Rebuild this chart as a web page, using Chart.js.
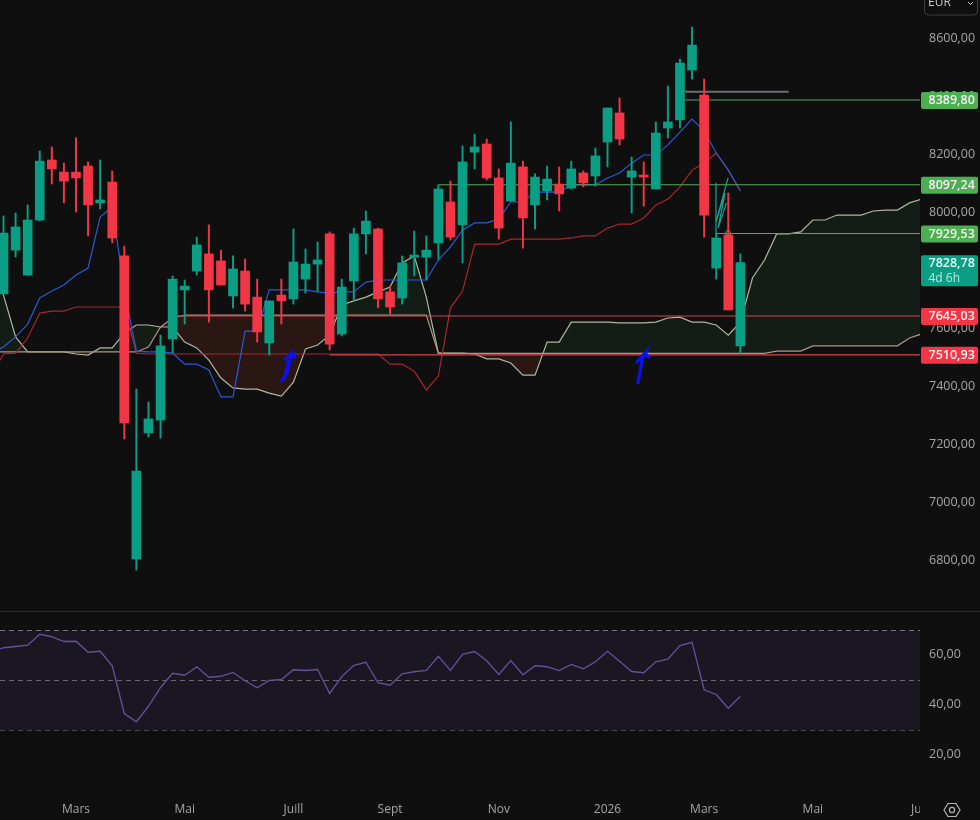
<!DOCTYPE html>
<html><head><meta charset="utf-8">
<style>
html,body{margin:0;padding:0;background:#0f0f0f;width:980px;height:820px;overflow:hidden}
canvas{position:absolute;left:0;display:block}
#sep{position:absolute;left:0;top:611px;width:980px;height:1px;background:#2a2a2c}
</style>
<script src="https://cdn.jsdelivr.net/npm/chart.js@4/dist/chart.umd.min.js"></script>
</head><body>
<canvas id="price" width="980" height="611" style="top:0"></canvas>
<div id="sep"></div>
<canvas id="osc" width="980" height="208" style="top:612px"></canvas>
<script>
const opens=[7721,7872,7786,7976,8183,8141,8141,8162,8035,8107,7852,6807,7242,7286,7566,7735,7800,7859,7835,7714,7800,7710,7552,7717,7704,7772,7824,7928,7583,7766,7928,7945,7728,7707,7848,7848,7897,8038,7959,8210,8238,8121,8041,8159,8028,8076,8100,8086,8138,8128,8245,8345,8124,8131,8083,8293,8321,8493,8407,7810,7924,7542];
const highs=[7990,8000,8028,8214,8228,8172,8259,8176,8183,8145,7886,7393,7348,7579,7783,7769,7917,7959,7872,7852,7841,7772,7697,7772,7945,7876,7900,7935,7772,7948,8007,7948,7748,7852,7938,7921,8097,8110,8231,8272,8255,8152,8314,8179,8135,8162,8159,8179,8145,8224,8362,8397,8193,8176,8314,8438,8531,8641,8462,7931,8069,7859];
const lows=[7721,7848,7786,7972,8100,8035,8004,7921,8014,7897,7221,6769,7228,7224,7517,7617,7786,7624,7752,7673,7662,7555,7510,7617,7686,7724,7731,7528,7576,7697,7859,7673,7652,7686,7783,7769,7841,7907,7828,8152,8114,7910,8041,7879,7945,8045,8007,8083,8090,8093,8159,8235,8000,8024,8083,8259,8293,8462,7917,7772,7666,7517];
const closes=[7931,7952,7976,8179,8152,8110,8121,8028,8045,7914,7276,7110,7290,7542,7772,7748,7890,7735,7752,7807,7686,7590,7697,7697,7831,7824,7838,7548,7745,7928,7972,7704,7676,7828,7855,7872,8083,7917,8176,8228,8121,7948,8172,7983,8124,8117,8066,8152,8104,8197,8362,8255,8145,8124,8276,8314,8517,8579,7993,7914,7666,7829];

// lines start one week before the first candle
const conversion=[7517,7538,7573,7617,7707,7731,7752,7786,7810,7986,8021,7735,7524,7521,7521,7517,7479,7479,7459,7366,7366,7593,7593,7735,7735,7735,7735,7728,7724,7728,7728,7762,7769,7769,7769,7769,7769,7838,7883,7941,7966,7966,7979,8038,8038,8072,8072,8072,8097,8097,8097,8121,8138,8172,8200,8200,8235,8279,8324,8283,8207,8148,8076];
const baseLine=[7441,7514,7517,7569,7655,7662,7662,7676,7676,7676,7676,7676,7517,7514,7514,7514,7514,7514,7514,7514,7514,7514,7514,7514,7514,7514,7514,7514,7514,7514,7514,7514,7514,7479,7479,7455,7390,7438,7673,7731,7893,7893,7893,7910,7910,7910,7910,7910,7914,7921,7921,7948,7962,7962,7983,8028,8048,8090,8148,8172,8207,8148,8076];
const leadA=[7804,7717,7573,7521,7521,7521,7521,7514,7510,7535,7535,7586,7614,7614,7607,7607,7555,7535,7493,7431,7397,7393,7393,7379,7369,7417,7531,7545,7579,7683,7697,7710,7728,7745,7828,7852,7710,7517,7517,7517,7514,7497,7497,7483,7441,7441,7555,7555,7624,7624,7624,7624,7621,7621,7621,7624,7638,7641,7624,7624,7614,7579,7624,7776,7838,7928,7928,7935,7976,7976,7993,7993,7993,8007,8010,8010,8035,8048,8062];
const leadB=[7521,7521,7521,7521,7521,7521,7521,7521,7521,7521,7521,7521,7521,7538,7607,7638,7648,7648,7648,7648,7648,7648,7648,7648,7648,7648,7648,7648,7648,7648,7648,7648,7648,7648,7648,7648,7648,7516,7516,7516,7516,7516,7516,7516,7516,7516,7516,7516,7516,7516,7516,7516,7516,7516,7516,7516,7516,7516,7516,7516,7516,7516,7516,7516,7516,7524,7524,7524,7542,7542,7542,7542,7542,7542,7542,7542,7569,7583,7597];

const rsiValues=[61.5,63.1,63.6,64.1,68.5,67.5,65.6,65.7,61.3,61.7,55.9,36.8,33.5,39.7,47.2,52.9,52.1,55.5,51.3,51.7,53.2,49.9,47.1,50,50.4,54.3,54,54.4,44.8,51.5,56.1,57.3,49.1,48.1,52.7,53.5,54,59.7,54,60.5,61.6,57.9,52.4,58,52.3,55.9,55.5,54,56.4,54.7,57.5,61.7,57.7,53.6,53.1,57.5,58.5,64,65.3,46.3,44.4,38.9,43.7];
const rsiBands=[70,50,30];

const levelValues=[8389.80,8097.24,7929.53,7645.03,7510.93];
const levelStarts=[56.4,36,58.98,14.3,27];
const levelKinds=['up','up','up','down','down'];
const grayLevel=[8418];
const grayRange=[56.4,65];
const lastPrice=7828.78;
const countdown='4d 6h';

const arrowOneX=[22.97,23.47,23.88,23.22,23.88,24.21];
const arrowOneY=[7417,7448,7517,7493,7517,7500];
const arrowOneBX=[23.2,23.6];
const arrowOneBY=[7425,7495];
const arrowTwoX=[52.5,52.9,53.1,52.36,53.1,53.5];
const arrowTwoY=[7410,7500,7517,7483,7517,7500];
const sketchX=[58.98,58.98,58.98,59.98,58.98,59.73,59.15,59.85];
const sketchY=[7931,8104,7969,8121,7969,8069,7948,8035];
const markerX=[59.98];
const markerY=[7931];

const priceTicks=[8600,8400,8200,8000,7800,7600,7400,7200,7000,6800];
const rsiTicks=[60,40,20];
const monthIdx=[6,15,24,32,41,50,58,67,76];
const monthNames=['Mars','Mai','Juill','Sept','Nov','2026','Mars','Mai','Juin'];

const BG='#0f0f0f',UP='#0a9f85',DOWN='#f23645',LBL='#a6a6a6';
const FONT='"Open Sans", sans-serif';
const XMIN=-0.29,XMAX=75.87;
const pts=(a,s)=>a.map((v,k)=>({x:s+k,y:v}));
const path=(xs,ys)=>xs.map((x,k)=>({x,y:ys[k]}));
const fmt=v=>v.toFixed(2).replace('.',',');
const line=(data,color,order,w,extra)=>Object.assign({type:'line',data,borderColor:color,borderWidth:w||1,pointRadius:0,tension:0,fill:false,order},extra||{});
const noPad=s=>{s.paddingTop=0;s.paddingBottom=0;s.paddingLeft=0;s.paddingRight=0;};

const candleColors=opens.map((o,i)=>closes[i]>=o?UP:DOWN);
const datasets=[
 line(pts(leadA,-1),'#aeb8a0',12,1.2,{fill:{target:1,above:'#141c16',below:'#2a1613'}}),
 line(pts(leadB,-1),'#b09488',11,1.2),
 line(pts(baseLine,-1),'#a8262f',9,1.2),
 line(pts(conversion,-1),'#2c58d8',8,1.2),
];
levelValues.forEach((v,k)=>{
 const c=levelKinds[k]==='up'?'#5aa85c':'#d8434b';
 datasets.push(line([{x:levelStarts[k],y:v},{x:XMAX+1,y:v}],c,7,1.1));
});
datasets.push(line([{x:grayRange[0],y:grayLevel[0]},{x:grayRange[1],y:grayLevel[0]}],'#6e6e74',7,2));
datasets.push({type:'bar',data:lows.map((l,i)=>({x:i,y:[l,highs[i]]})),backgroundColor:candleColors,barThickness:1.3,grouped:false,order:4,borderWidth:0});
datasets.push({type:'bar',data:opens.map((o,i)=>({x:i,y:[o,closes[i]]})),backgroundColor:candleColors,barThickness:9,grouped:false,order:3,borderWidth:0});
datasets.push(line(path(sketchX,sketchY),'#1f9e92',2,1.2));
datasets.push(line(path(markerX,markerY),'#a0703a',2,1,{pointRadius:2.5,pointBackgroundColor:'rgba(0,0,0,0)',pointBorderColor:'#a0703a'}));
datasets.push(line(path(arrowOneX,arrowOneY),'#0a12ee',1,3.2));
datasets.push(line(path(arrowOneBX,arrowOneBY),'#0a12ee',1,2.6));
datasets.push(line(path(arrowTwoX,arrowTwoY),'#0a12ee',1,3.2));

function rr(c,x,y,w,h,r){c.beginPath();c.roundRect(x,y,w,h,r);}
const badges={id:'badges',afterDraw(ch){
 const c=ch.ctx,y=ch.scales.y;c.save();
 c.textBaseline='middle';c.textAlign='left';
 levelValues.forEach((v,k)=>{
  const py=y.getPixelForValue(v)+0.5;
  c.fillStyle=levelKinds[k]==='up'?'#4caf50':DOWN;
  rr(c,921,py-8.5,57,17,2);c.fill();
  c.fillStyle='#f2f2f2';c.font='600 12.5px '+FONT;
  c.fillText(fmt(v),928.5,py);
 });
 const ly=y.getPixelForValue(lastPrice)-7.5;
 c.fillStyle=UP;rr(c,921,ly,57,31,2);c.fill();
 c.fillStyle='#eafaf6';c.font='600 12.5px '+FONT;c.fillText(fmt(lastPrice),928.5,ly+8);
 c.fillStyle='#bfe6dd';c.font='12px '+FONT;c.fillText(countdown,928.5,ly+23);
 // currency selector
 c.strokeStyle='#3d3d40';c.lineWidth=1;rr(c,924.5,-8,53,23,4);c.stroke();
 c.fillStyle='#c9c9c9';c.font='12px '+FONT;c.fillText('EUR',928,3);
 c.strokeStyle='#c9c9c9';c.beginPath();c.moveTo(968,2);c.lineTo(970.5,4.5);c.lineTo(973,2);c.stroke();
 c.restore();
}};
new Chart(document.getElementById('price'),{
 data:{datasets},
 plugins:[badges],
 options:{responsive:false,animation:false,events:[],layout:{padding:0,autoPadding:false},
  plugins:{legend:{display:false},tooltip:{enabled:false},filler:{propagate:false}},
  scales:{
   x:{type:'linear',display:false,min:XMIN,max:XMAX,offset:false,grid:{display:false}},
   y:{position:'right',min:6627.8,max:8734.5,border:{display:false},grid:{display:false,drawTicks:false},
    afterFit(s){s.width=60;noPad(s);},
    afterBuildTicks(s){s.ticks=priceTicks.map(v=>({value:v}));},
    ticks:{color:LBL,font:{family:FONT,size:12.5},padding:9,crossAlign:'near',labelOffset:-1,callback:v=>fmt(v)}}
  }}
});

const oscPlugin={id:'osc',afterDraw(ch){
 const c=ch.ctx,h=ch.height;c.save();
 c.fillStyle=BG;c.fillRect(920,170,60,h-170);
 // settings hexagon
 const cx=952,cy=198;c.strokeStyle='#b5b5b5';c.lineWidth=1.2;c.beginPath();
 [[-8,0],[-4,-6.5],[4,-6.5],[8,0],[4,6.5],[-4,6.5]].forEach((p,k)=>k?c.lineTo(cx+p[0],cy+p[1]):c.moveTo(cx+p[0],cy+p[1]));
 c.closePath();c.stroke();c.beginPath();c.arc(cx,cy,2.6,0,Math.PI*2);c.stroke();
 c.restore();
}};
const bandDash={borderDash:[5,4]};
new Chart(document.getElementById('osc'),{
 data:{datasets:[
  line(pts(rsiValues,-1),'#64509c',1,1.3),
  line([{x:XMIN,y:rsiBands[0]},{x:XMAX,y:rsiBands[0]}],'#76767c',3,1,Object.assign({fill:{target:2,above:'#1b1722',below:'#1b1722'}},bandDash)),
  line([{x:XMIN,y:rsiBands[2]},{x:XMAX,y:rsiBands[2]}],'#76767c',3,1,bandDash),
  line([{x:XMIN,y:rsiBands[1]},{x:XMAX,y:rsiBands[1]}],'#66666c',2,1,bandDash)
 ]},
 plugins:[oscPlugin],
 options:{responsive:false,animation:false,events:[],layout:{padding:0,autoPadding:false},
  plugins:{legend:{display:false},tooltip:{enabled:false},filler:{propagate:false}},
  scales:{
   x:{type:'linear',min:XMIN,max:XMAX,border:{display:false},grid:{display:false,drawTicks:false},
    afterFit(s){s.height=30;noPad(s);},
    afterBuildTicks(s){s.ticks=monthIdx.map(v=>({value:v}));},
    ticks:{color:LBL,font:{family:FONT,size:12},autoSkip:false,maxRotation:0,minRotation:0,padding:12,
     callback:v=>monthNames[monthIdx.indexOf(v)]}},
   y:{position:'right',min:6.2,max:77.4,border:{display:false},grid:{display:false,drawTicks:false},
    afterFit(s){s.width=60;noPad(s);},
    afterBuildTicks(s){s.ticks=rsiTicks.map(v=>({value:v}));},
    ticks:{color:LBL,font:{family:FONT,size:12.5},padding:9,crossAlign:'near',labelOffset:-1,callback:v=>fmt(v)}}
  }}
});
</script>
</body></html>
